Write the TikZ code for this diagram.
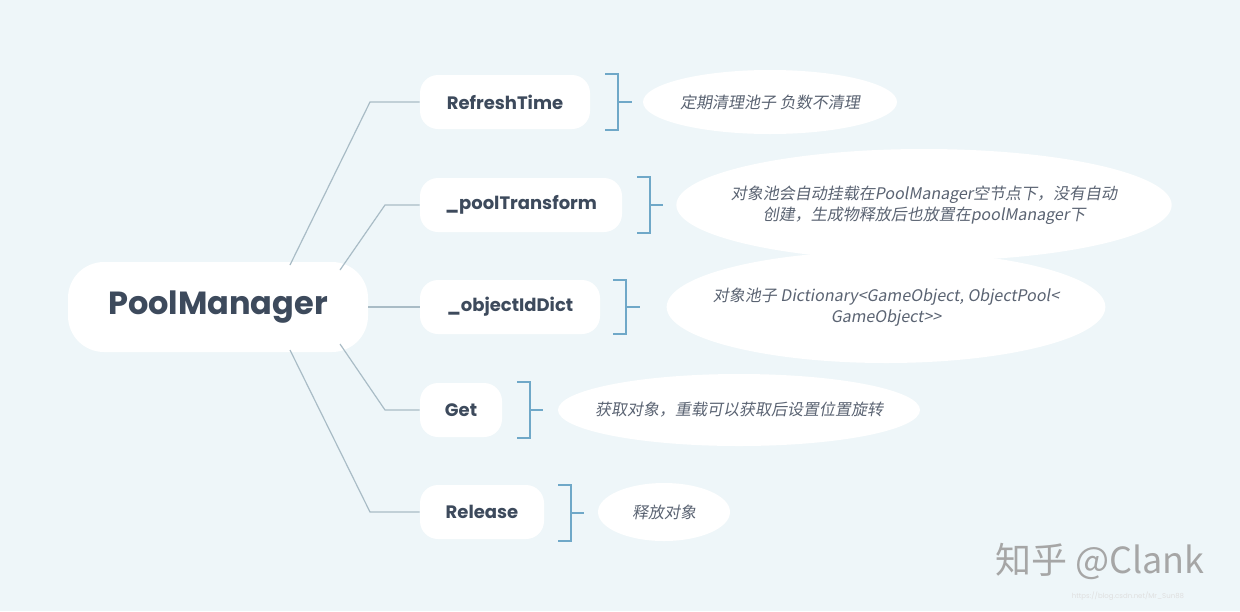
\documentclass[tikz,border=0pt]{standalone}
\usepackage{fontspec}
\setmainfont{Poppins}
\newfontfamily\cjk[FakeSlant=0.18]{Noto Sans CJK SC}
\newfontfamily\wmfont{Noto Sans CJK SC}
\usetikzlibrary{shapes.geometric, positioning}
\definecolor{bgcol}{HTML}{EEF6F9}
\definecolor{linecol}{HTML}{A9BCC6}
\definecolor{brackcol}{HTML}{6FA8C8}
\definecolor{txtcol}{HTML}{3D4A5C}
\definecolor{desccol}{HTML}{5A6372}
\tikzset{
    x=0.5pt, y=-0.5pt,
    root/.style={fill=white, rounded corners=18pt, minimum width=150pt, minimum height=45pt,
        text=txtcol, font=\fontsize{16}{18}\selectfont\bfseries}, % the centre topic
    branch/.style={fill=white, rounded corners=9pt, minimum height=27pt, inner xsep=12pt,
        text=txtcol, font=\fontsize{9}{11}\selectfont\bfseries},
    desc/.style={ellipse, fill=white, inner sep=0pt, text=desccol, align=center,
        font=\cjk\fontsize{8}{10.5}\selectfont},
    link/.style={draw=linecol, line width=0.6pt},
    brack/.style={draw=brackcol, line width=0.7pt},
}
\newcommand{\bracket}[4]{% x, top, bottom, stub end
    \draw[brack] (#1-13,#2) -- (#1,#2) -- (#1,#3) -- (#1-13,#3);
    \draw[brack] (#1,{(#2+#3)/2}) -- (#4,{(#2+#3)/2});
}
\begin{document}
\begin{tikzpicture}
\fill[bgcol] (0,0) rectangle (1240,611);

\node[root] (pm) at (218,307) {PoolManager};

\node[branch, minimum width=85pt] (refresh) at (505,102) {RefreshTime};
\node[branch, minimum width=101pt] (pool) at (521,205) {\_poolTransform};
\node[branch, minimum width=90pt] (dict) at (510,307) {\_objectIdDict};
\node[branch, minimum width=41pt] (get) at (461,410) {Get};
\node[branch, minimum width=62pt] (release) at (482,512) {Release};

% elbows
\coordinate (e1) at (370,102);
\coordinate (e2) at (385,205);
\coordinate (e4) at (385,410);
\coordinate (e5) at (370,512);
\draw[link] (290,265) -- (e1) -- (refresh.west);
\draw[link] (340,270) -- (e2) -- (pool.west);
\draw[link] (pm.east) -- (dict.west);
\draw[link] (340,344) -- (e4) -- (get.west);
\draw[link] (290,350) -- (e5) -- (release.west);

\bracket{618}{74}{130}{632}
\bracket{650}{177}{233}{663}
\bracket{626}{280}{334}{640}
\bracket{530}{382}{438}{543}
\bracket{571}{485}{541}{584}

\node[desc, minimum width=125pt, minimum height=32pt] (d1) at (770,102) {定期清理池子 负数不清理};
\node[desc, inner xsep=-9pt, minimum height=56pt] (d2) at (924,205)
    {对象池会自动挂载在PoolManager空节点下，没有自动\\创建，生成物释放后也放置在poolManager下};
\node[desc, inner xsep=-9pt, minimum height=56pt] (d3) at (886,307)
    {对象池子 Dictionary<GameObject, ObjectPool<\\GameObject>>};
\node[desc, inner xsep=-8pt, minimum height=36pt] (d4) at (739,410) {获取对象，重载可以获取后设置位置旋转};
\node[desc, minimum width=66pt, minimum height=29pt] (d5) at (664,512) {释放对象};

\node[text=gray!70, font=\wmfont\fontsize{18}{20}\selectfont] (wm) at (1100,561) {知乎 @Clank};
\node[text=gray!25, font=\fontsize{3.5}{4}\selectfont] (url) at (1128,596) {https://blog.csdn.net/Mr\_Sun88};
\end{tikzpicture}
\end{document}
